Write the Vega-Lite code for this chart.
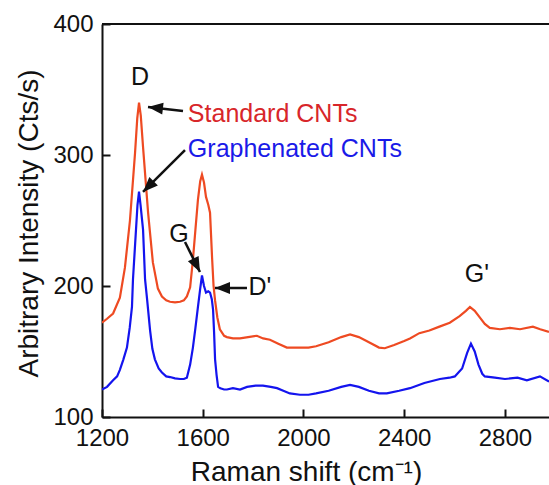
{
  "$schema": "https://vega.github.io/schema/vega-lite/v6.json",
  "width": 447,
  "height": 393,
  "autosize": {"type": "none"},
  "padding": {"left": 102, "top": 24, "right": 0, "bottom": 68},
  "background": "white",
  "config": {
    "view": {"stroke": null},
    "font": "Liberation Sans",
    "axis": {
      "grid": false,
      "domainColor": "#111111",
      "domainWidth": 2,
      "tickColor": "#111111",
      "tickWidth": 2,
      "tickSize": -8,
      "labelFlush": false,
      "labelFont": "Liberation Sans",
      "labelFontSize": 24,
      "labelColor": "#111111",
      "titleFont": "Liberation Sans",
      "titleFontSize": 28,
      "titleFontWeight": "normal",
      "titleColor": "#111111"
    }
  },
  "datasets": {
    "spectra": [
      {"series": "Standard CNTs", "shift": 1200, "intensity": 172},
      {"series": "Standard CNTs", "shift": 1220, "intensity": 175},
      {"series": "Standard CNTs", "shift": 1244, "intensity": 179},
      {"series": "Standard CNTs", "shift": 1271, "intensity": 191},
      {"series": "Standard CNTs", "shift": 1291, "intensity": 214},
      {"series": "Standard CNTs", "shift": 1311, "intensity": 250},
      {"series": "Standard CNTs", "shift": 1331, "intensity": 301},
      {"series": "Standard CNTs", "shift": 1340, "intensity": 328},
      {"series": "Standard CNTs", "shift": 1347, "intensity": 340},
      {"series": "Standard CNTs", "shift": 1354, "intensity": 330},
      {"series": "Standard CNTs", "shift": 1363, "intensity": 306},
      {"series": "Standard CNTs", "shift": 1383, "intensity": 256},
      {"series": "Standard CNTs", "shift": 1402, "intensity": 218},
      {"series": "Standard CNTs", "shift": 1422, "intensity": 198},
      {"series": "Standard CNTs", "shift": 1438, "intensity": 192},
      {"series": "Standard CNTs", "shift": 1455, "intensity": 189},
      {"series": "Standard CNTs", "shift": 1470, "intensity": 188},
      {"series": "Standard CNTs", "shift": 1490, "intensity": 187.5},
      {"series": "Standard CNTs", "shift": 1510, "intensity": 188},
      {"series": "Standard CNTs", "shift": 1525, "intensity": 189},
      {"series": "Standard CNTs", "shift": 1537, "intensity": 192},
      {"series": "Standard CNTs", "shift": 1550, "intensity": 199},
      {"series": "Standard CNTs", "shift": 1561, "intensity": 220},
      {"series": "Standard CNTs", "shift": 1571, "intensity": 243},
      {"series": "Standard CNTs", "shift": 1581, "intensity": 266},
      {"series": "Standard CNTs", "shift": 1590, "intensity": 280},
      {"series": "Standard CNTs", "shift": 1597, "intensity": 285},
      {"series": "Standard CNTs", "shift": 1605, "intensity": 279},
      {"series": "Standard CNTs", "shift": 1613, "intensity": 268},
      {"series": "Standard CNTs", "shift": 1622, "intensity": 262},
      {"series": "Standard CNTs", "shift": 1629, "intensity": 256},
      {"series": "Standard CNTs", "shift": 1637, "intensity": 222},
      {"series": "Standard CNTs", "shift": 1643, "intensity": 200},
      {"series": "Standard CNTs", "shift": 1649, "intensity": 189},
      {"series": "Standard CNTs", "shift": 1658, "intensity": 176},
      {"series": "Standard CNTs", "shift": 1668, "intensity": 167},
      {"series": "Standard CNTs", "shift": 1685, "intensity": 162},
      {"series": "Standard CNTs", "shift": 1696, "intensity": 161},
      {"series": "Standard CNTs", "shift": 1720, "intensity": 160},
      {"series": "Standard CNTs", "shift": 1748, "intensity": 160},
      {"series": "Standard CNTs", "shift": 1780, "intensity": 161},
      {"series": "Standard CNTs", "shift": 1815, "intensity": 162},
      {"series": "Standard CNTs", "shift": 1840, "intensity": 160},
      {"series": "Standard CNTs", "shift": 1867, "intensity": 159},
      {"series": "Standard CNTs", "shift": 1900, "intensity": 156},
      {"series": "Standard CNTs", "shift": 1934, "intensity": 153},
      {"series": "Standard CNTs", "shift": 1986, "intensity": 153},
      {"series": "Standard CNTs", "shift": 2020, "intensity": 153},
      {"series": "Standard CNTs", "shift": 2050, "intensity": 154},
      {"series": "Standard CNTs", "shift": 2100, "intensity": 157},
      {"series": "Standard CNTs", "shift": 2150, "intensity": 161},
      {"series": "Standard CNTs", "shift": 2185, "intensity": 163},
      {"series": "Standard CNTs", "shift": 2220, "intensity": 161},
      {"series": "Standard CNTs", "shift": 2260, "intensity": 157},
      {"series": "Standard CNTs", "shift": 2300, "intensity": 153},
      {"series": "Standard CNTs", "shift": 2323, "intensity": 152.5},
      {"series": "Standard CNTs", "shift": 2360, "intensity": 155},
      {"series": "Standard CNTs", "shift": 2400, "intensity": 158},
      {"series": "Standard CNTs", "shift": 2423, "intensity": 160},
      {"series": "Standard CNTs", "shift": 2460, "intensity": 164},
      {"series": "Standard CNTs", "shift": 2500, "intensity": 166},
      {"series": "Standard CNTs", "shift": 2540, "intensity": 169},
      {"series": "Standard CNTs", "shift": 2581, "intensity": 172},
      {"series": "Standard CNTs", "shift": 2620, "intensity": 177},
      {"series": "Standard CNTs", "shift": 2645, "intensity": 181},
      {"series": "Standard CNTs", "shift": 2661, "intensity": 184},
      {"series": "Standard CNTs", "shift": 2680, "intensity": 181},
      {"series": "Standard CNTs", "shift": 2700, "intensity": 176},
      {"series": "Standard CNTs", "shift": 2720, "intensity": 171},
      {"series": "Standard CNTs", "shift": 2740, "intensity": 168},
      {"series": "Standard CNTs", "shift": 2780, "intensity": 167},
      {"series": "Standard CNTs", "shift": 2820, "intensity": 168},
      {"series": "Standard CNTs", "shift": 2860, "intensity": 167},
      {"series": "Standard CNTs", "shift": 2911, "intensity": 169},
      {"series": "Standard CNTs", "shift": 2940, "intensity": 167},
      {"series": "Standard CNTs", "shift": 2975, "intensity": 165},
      {"series": "Graphenated CNTs", "shift": 1200, "intensity": 121},
      {"series": "Graphenated CNTs", "shift": 1220, "intensity": 123},
      {"series": "Graphenated CNTs", "shift": 1244, "intensity": 128},
      {"series": "Graphenated CNTs", "shift": 1260, "intensity": 131},
      {"series": "Graphenated CNTs", "shift": 1271, "intensity": 136},
      {"series": "Graphenated CNTs", "shift": 1285, "intensity": 144},
      {"series": "Graphenated CNTs", "shift": 1299, "intensity": 153},
      {"series": "Graphenated CNTs", "shift": 1310, "intensity": 168},
      {"series": "Graphenated CNTs", "shift": 1319, "intensity": 184},
      {"series": "Graphenated CNTs", "shift": 1323, "intensity": 205},
      {"series": "Graphenated CNTs", "shift": 1335, "intensity": 243},
      {"series": "Graphenated CNTs", "shift": 1341, "intensity": 262},
      {"series": "Graphenated CNTs", "shift": 1347, "intensity": 272},
      {"series": "Graphenated CNTs", "shift": 1353, "intensity": 262},
      {"series": "Graphenated CNTs", "shift": 1363, "intensity": 243},
      {"series": "Graphenated CNTs", "shift": 1371, "intensity": 205},
      {"series": "Graphenated CNTs", "shift": 1379, "intensity": 190},
      {"series": "Graphenated CNTs", "shift": 1391, "intensity": 166},
      {"series": "Graphenated CNTs", "shift": 1400, "intensity": 152},
      {"series": "Graphenated CNTs", "shift": 1410, "intensity": 144},
      {"series": "Graphenated CNTs", "shift": 1425, "intensity": 137},
      {"series": "Graphenated CNTs", "shift": 1438, "intensity": 134},
      {"series": "Graphenated CNTs", "shift": 1455, "intensity": 131},
      {"series": "Graphenated CNTs", "shift": 1470, "intensity": 130.5},
      {"series": "Graphenated CNTs", "shift": 1490, "intensity": 129.5},
      {"series": "Graphenated CNTs", "shift": 1510, "intensity": 129},
      {"series": "Graphenated CNTs", "shift": 1525, "intensity": 129},
      {"series": "Graphenated CNTs", "shift": 1537, "intensity": 130},
      {"series": "Graphenated CNTs", "shift": 1550, "intensity": 140},
      {"series": "Graphenated CNTs", "shift": 1561, "intensity": 153},
      {"series": "Graphenated CNTs", "shift": 1571, "intensity": 168},
      {"series": "Graphenated CNTs", "shift": 1581, "intensity": 184},
      {"series": "Graphenated CNTs", "shift": 1590, "intensity": 198},
      {"series": "Graphenated CNTs", "shift": 1597, "intensity": 208},
      {"series": "Graphenated CNTs", "shift": 1605, "intensity": 200},
      {"series": "Graphenated CNTs", "shift": 1613, "intensity": 195},
      {"series": "Graphenated CNTs", "shift": 1622, "intensity": 196},
      {"series": "Graphenated CNTs", "shift": 1629, "intensity": 195},
      {"series": "Graphenated CNTs", "shift": 1636, "intensity": 190},
      {"series": "Graphenated CNTs", "shift": 1641, "intensity": 182},
      {"series": "Graphenated CNTs", "shift": 1645, "intensity": 165},
      {"series": "Graphenated CNTs", "shift": 1649, "intensity": 144},
      {"series": "Graphenated CNTs", "shift": 1655, "intensity": 132},
      {"series": "Graphenated CNTs", "shift": 1661, "intensity": 123},
      {"series": "Graphenated CNTs", "shift": 1670, "intensity": 122},
      {"series": "Graphenated CNTs", "shift": 1685, "intensity": 121},
      {"series": "Graphenated CNTs", "shift": 1696, "intensity": 121},
      {"series": "Graphenated CNTs", "shift": 1720, "intensity": 122},
      {"series": "Graphenated CNTs", "shift": 1748, "intensity": 121},
      {"series": "Graphenated CNTs", "shift": 1776, "intensity": 123},
      {"series": "Graphenated CNTs", "shift": 1810, "intensity": 124},
      {"series": "Graphenated CNTs", "shift": 1839, "intensity": 124},
      {"series": "Graphenated CNTs", "shift": 1870, "intensity": 123},
      {"series": "Graphenated CNTs", "shift": 1895, "intensity": 122},
      {"series": "Graphenated CNTs", "shift": 1920, "intensity": 120},
      {"series": "Graphenated CNTs", "shift": 1946, "intensity": 118},
      {"series": "Graphenated CNTs", "shift": 1986, "intensity": 117},
      {"series": "Graphenated CNTs", "shift": 2020, "intensity": 117},
      {"series": "Graphenated CNTs", "shift": 2050, "intensity": 118},
      {"series": "Graphenated CNTs", "shift": 2100, "intensity": 120},
      {"series": "Graphenated CNTs", "shift": 2150, "intensity": 123},
      {"series": "Graphenated CNTs", "shift": 2185, "intensity": 124.5},
      {"series": "Graphenated CNTs", "shift": 2220, "intensity": 123},
      {"series": "Graphenated CNTs", "shift": 2260, "intensity": 120},
      {"series": "Graphenated CNTs", "shift": 2300, "intensity": 118},
      {"series": "Graphenated CNTs", "shift": 2331, "intensity": 118},
      {"series": "Graphenated CNTs", "shift": 2380, "intensity": 120},
      {"series": "Graphenated CNTs", "shift": 2423, "intensity": 122},
      {"series": "Graphenated CNTs", "shift": 2480, "intensity": 126},
      {"series": "Graphenated CNTs", "shift": 2542, "intensity": 129},
      {"series": "Graphenated CNTs", "shift": 2580, "intensity": 130},
      {"series": "Graphenated CNTs", "shift": 2601, "intensity": 131},
      {"series": "Graphenated CNTs", "shift": 2630, "intensity": 137},
      {"series": "Graphenated CNTs", "shift": 2650, "intensity": 149},
      {"series": "Graphenated CNTs", "shift": 2665, "intensity": 156},
      {"series": "Graphenated CNTs", "shift": 2680, "intensity": 150},
      {"series": "Graphenated CNTs", "shift": 2695, "intensity": 140},
      {"series": "Graphenated CNTs", "shift": 2710, "intensity": 133},
      {"series": "Graphenated CNTs", "shift": 2720, "intensity": 131},
      {"series": "Graphenated CNTs", "shift": 2760, "intensity": 130},
      {"series": "Graphenated CNTs", "shift": 2800, "intensity": 129},
      {"series": "Graphenated CNTs", "shift": 2850, "intensity": 130},
      {"series": "Graphenated CNTs", "shift": 2887, "intensity": 128},
      {"series": "Graphenated CNTs", "shift": 2939, "intensity": 131},
      {"series": "Graphenated CNTs", "shift": 2975, "intensity": 127}
    ],
    "peaks": [
      {"label": "D", "shift": 1351, "intensity": 353.4},
      {"label": "G", "shift": 1506, "intensity": 233.6},
      {"label": "D'", "shift": 1827, "intensity": 193.1},
      {"label": "G'", "shift": 2689, "intensity": 203.1}
    ],
    "seriesLabels": [
      {"series": "Standard CNTs", "shift": 1541, "intensity": 325.2},
      {"series": "Graphenated CNTs", "shift": 1541, "intensity": 298.5}
    ],
    "arrows": [
      {"shift": 1521.6, "intensity": 333.6, "x2": 1382.6, "y2": 336.7},
      {"shift": 1529.5, "intensity": 303.8, "x2": 1362.8, "y2": 271.8},
      {"shift": 1529.5, "intensity": 233.6, "x2": 1589, "y2": 210.7},
      {"shift": 1775.7, "intensity": 198.5, "x2": 1648.6, "y2": 198.5}
    ],
    "heads": [
      {"shift": 1382.6, "intensity": 336.7, "angle": 276.5},
      {"shift": 1362.8, "intensity": 271.8, "angle": 225},
      {"shift": 1589, "intensity": 210.7, "angle": 153.4},
      {"shift": 1648.6, "intensity": 198.5, "angle": 270}
    ],
    "frame": [{"intensity": 400}]
  },
  "layer": [
    {
      "data": {"name": "spectra"},
      "mark": {"type": "line", "strokeWidth": 2.2, "clip": true},
      "encoding": {
        "x": {
          "field": "shift", "type": "quantitative",
          "scale": {"domain": [1200, 2975], "nice": false, "zero": false},
          "axis": {"values": [1200, 1600, 2000, 2400, 2800], "format": "d", "title": "Raman shift (cm⁻¹)", "labelPadding": 17, "titleX": 204, "titleY": 63, "titleBaseline": "alphabetic", "titleAnchor": "middle", "titleAlign": "center"}
        },
        "y": {
          "field": "intensity", "type": "quantitative",
          "scale": {"domain": [100, 400], "nice": false, "zero": false},
          "axis": {"values": [100, 200, 300, 400], "format": "d", "title": "Arbitrary Intensity (Cts/s)", "labelPadding": 17, "titleX": -65, "titleY": 199, "titleBaseline": "alphabetic", "titleAngle": -90, "titleAlign": "center"}
        },
        "color": {
          "field": "series", "type": "nominal",
          "scale": {"domain": ["Standard CNTs", "Graphenated CNTs"], "range": ["#ee4a22", "#1414ee"]},
          "legend": null
        }
      }
    },
    {
      "data": {"name": "frame"},
      "mark": {"type": "rule", "color": "#111111", "strokeWidth": 2},
      "encoding": {
        "y": {"field": "intensity", "type": "quantitative"}
      }
    },
    {
      "data": {"name": "arrows"},
      "mark": {"type": "rule", "color": "#111111", "strokeWidth": 2.5},
      "encoding": {
        "x": {"field": "shift", "type": "quantitative"},
        "y": {"field": "intensity", "type": "quantitative"},
        "x2": {"field": "x2"},
        "y2": {"field": "y2"}
      }
    },
    {
      "data": {"name": "heads"},
      "mark": {"type": "point", "shape": "M0,0L0.8,2L-0.8,2Z", "filled": true, "color": "#111111", "opacity": 1, "size": 225, "strokeWidth": 0},
      "encoding": {
        "x": {"field": "shift", "type": "quantitative"},
        "y": {"field": "intensity", "type": "quantitative"},
        "angle": {"field": "angle", "type": "quantitative", "scale": null}
      }
    },
    {
      "data": {"name": "peaks"},
      "mark": {"type": "text", "font": "Liberation Sans", "fontSize": 25, "color": "#111111", "align": "center", "baseline": "alphabetic"},
      "encoding": {
        "x": {"field": "shift", "type": "quantitative"},
        "y": {"field": "intensity", "type": "quantitative"},
        "text": {"field": "label"}
      }
    },
    {
      "data": {"name": "seriesLabels"},
      "mark": {"type": "text", "font": "Liberation Sans", "fontSize": 25, "align": "left", "baseline": "alphabetic"},
      "encoding": {
        "x": {"field": "shift", "type": "quantitative"},
        "y": {"field": "intensity", "type": "quantitative"},
        "text": {"field": "series"},
        "fill": {
          "field": "series", "type": "nominal",
          "scale": {"domain": ["Standard CNTs", "Graphenated CNTs"], "range": ["#d8262a", "#1a1ae8"]},
          "legend": null
        }
      }
    }
  ]
}
